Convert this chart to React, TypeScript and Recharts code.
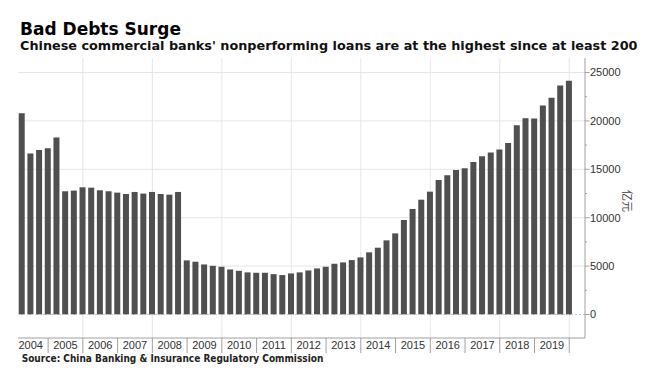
import React from 'react';
import { BarChart, Bar, XAxis, YAxis, CartesianGrid, ReferenceLine } from 'recharts';

// quarterly NPL balance, 亿元, 2004Q1 .. 2019Q4
const years = [2004, 2005, 2006, 2007, 2008, 2009, 2010, 2011, 2012, 2013, 2014, 2015, 2016, 2017, 2018, 2019];
const nplBalance = [
  20800, 16620, 17000, 17180,
  18280, 12730, 12800, 13140,
  13100, 12830, 12730, 12590,
  12450, 12660, 12490, 12660,
  12450, 12380, 12660, 5590,
  5450, 5170, 5030, 4930,
  4650, 4510, 4350, 4310,
  4310, 4170, 4070, 4240,
  4350, 4550, 4760, 4930,
  5240, 5380, 5620, 5900,
  6420, 6900, 7660, 8380,
  9760, 10900, 11860, 12690,
  13900, 14390, 14940, 15110,
  15760, 16350, 16730, 17040,
  17730, 19560, 20280, 20250,
  21590, 22390, 23660, 24150,
];
const yearBoundaries = [2005, 2006, 2007, 2008, 2009, 2010, 2011, 2012, 2013, 2014, 2015, 2016, 2017, 2018, 2019, 2020];
const gridYears = [2006, 2008, 2010, 2012, 2014, 2016, 2018, 2020];
const gridValues = [5000, 10000, 15000, 20000, 25000];
const valueTicks = [0, 2500, 5000, 7500, 10000, 12500, 15000, 17500, 20000, 22500, 25000];

// bars sit at quarter end: 2004Q1 -> 2004.25
const data = nplBalance.map((v, i) => ({
  t: years[Math.floor(i / 4)] + ((i % 4) + 1) / 4,
  quarter: `${years[Math.floor(i / 4)]}Q${(i % 4) + 1}`,
  npl: v,
}));

const X_MIN = 2004.133;
const X_MAX = 2020.453;
const PLOT_W = 567;
const HALF_YEAR = PLOT_W / (X_MAX - X_MIN) / 2;
const AXIS = '#a0a0a0';
const TICK_FONT = '"Liberation Sans", Arial, sans-serif';
const TITLE_FONT = '"DejaVu Sans", Verdana, sans-serif';

const YearTick = (props: any) => {
  const { x, y, payload } = props;
  return (
    <g>
      <line x1={x} x2={x} y1={y} y2={y + 15} stroke={AXIS} />
      <text x={x - HALF_YEAR} y={y + 10.6} textAnchor="middle" fontSize={11} fontFamily={TICK_FONT} fill="#333">
        {payload.value - 1}
      </text>
    </g>
  );
};

const ValueTick = (props: any) => {
  const { x, y, payload } = props;
  const major = payload.value % 5000 === 0;
  return (
    <g>
      <line x1={x} x2={x + (major ? 4.5 : 2)} y1={y} y2={y} stroke={AXIS} />
      {major && (
        <text x={x + 5} y={y} dy="0.355em" textAnchor="start" fontSize={11} fontFamily={TICK_FONT} fill="#333">
          {payload.value}
        </text>
      )}
    </g>
  );
};

export default function App() {
  return (
    <div style={{ position: 'absolute', left: 0, top: 0, width: 654, height: 377, background: '#fff', overflow: 'hidden' }}>
      <div style={{ position: 'absolute', left: 20, top: 20.6, fontFamily: TITLE_FONT, fontWeight: 'bold', fontSize: 17, lineHeight: 1, color: '#000', whiteSpace: 'nowrap' }}>
        Bad Debts Surge
      </div>
      <div style={{ position: 'absolute', left: 20, top: 40.2, fontFamily: TITLE_FONT, fontWeight: 'bold', fontSize: 12.8, lineHeight: 1, color: '#111', whiteSpace: 'nowrap' }}>
        Chinese commercial banks' nonperforming loans are at the highest since at least 200
      </div>

      <BarChart width={654} height={377} data={data} margin={{ top: 58, right: 0, bottom: 0, left: 18 }}>
        <CartesianGrid stroke="#e6e6e6" horizontalValues={gridValues} verticalValues={gridYears} />
        <ReferenceLine y={0} stroke="#c4c4c4" strokeDasharray="2 2" />
        <XAxis
          dataKey="t"
          type="number"
          domain={[X_MIN, X_MAX]}
          allowDataOverflow
          ticks={yearBoundaries}
          interval={0}
          height={39}
          tickLine={false}
          tickSize={0}
          tickMargin={0}
          axisLine={{ stroke: AXIS }}
          tick={<YearTick />}
        />
        <YAxis
          orientation="right"
          type="number"
          domain={[-2430, 26500]}
          allowDataOverflow
          ticks={valueTicks}
          interval={0}
          width={69}
          tickLine={false}
          tickSize={0}
          tickMargin={0}
          axisLine={{ stroke: AXIS }}
          tick={<ValueTick />}
        />
        <Bar dataKey="npl" fill="#4f4f4f" barSize={6} isAnimationActive={false} />
      </BarChart>

      <div style={{ position: 'absolute', left: 627, top: 201, transform: 'translate(-50%, -50%) rotate(90deg)', fontFamily: '"Noto Sans CJK SC", sans-serif', fontSize: 11, lineHeight: 1, color: '#444', whiteSpace: 'nowrap' }}>
        亿元
      </div>
      <div style={{ position: 'absolute', left: 21.7, top: 353.5, fontFamily: '"DejaVu Sans Condensed", "DejaVu Sans", sans-serif', fontStretch: 'condensed', fontWeight: 'bold', fontSize: 10, lineHeight: 1, color: '#222', whiteSpace: 'nowrap' }}>
        Source: China Banking &amp; Insurance Regulatory Commission
      </div>
    </div>
  );
}
